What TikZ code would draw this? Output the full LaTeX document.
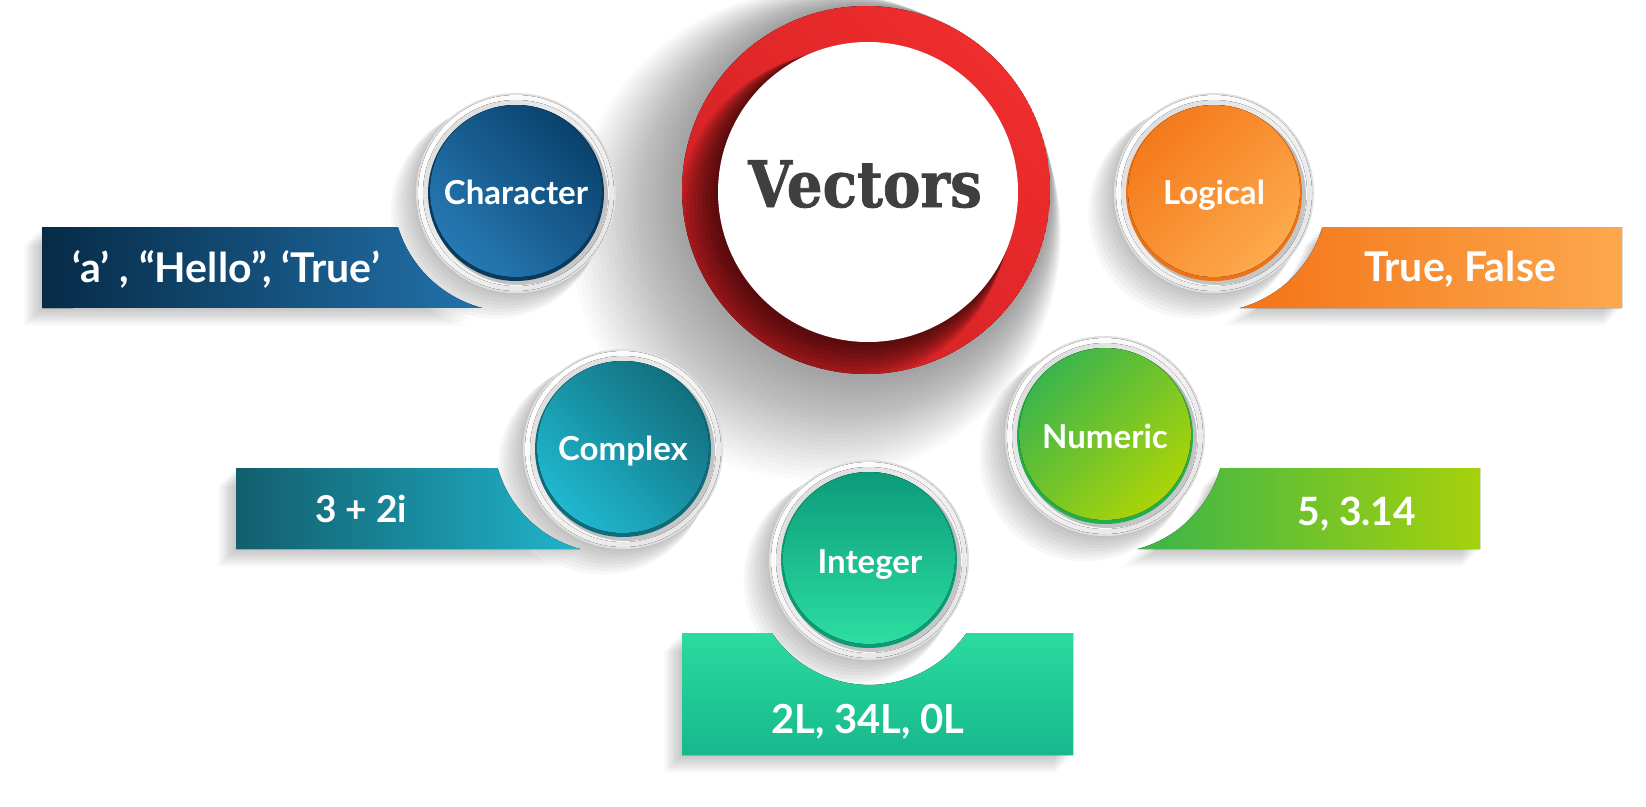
\documentclass[tikz,border=0pt]{standalone}
\usepackage{fontspec}
\usepackage{graphicx}
\setmainfont{Lato}
\newfontfamily\vecfont[BoldFeatures={FakeBold=1.3}]{DejaVu Serif}
\usetikzlibrary{calc}
\definecolor{charA}{HTML}{062B47}\definecolor{charB}{HTML}{2272AB}
\definecolor{charR}{HTML}{0A3A5C}\definecolor{charT}{HTML}{0A426D}\definecolor{charBt}{HTML}{2679B4}
\definecolor{logA}{HTML}{F37416}\definecolor{logB}{HTML}{FDA84E}
\definecolor{logR}{HTML}{EE7213}\definecolor{logT}{HTML}{F47A1B}\definecolor{logBt}{HTML}{FDA94D}
\definecolor{comA}{HTML}{125E6D}\definecolor{comB}{HTML}{20B4CB}
\definecolor{comR}{HTML}{0F6C7A}\definecolor{comT}{HTML}{12707F}\definecolor{comBt}{HTML}{20B7CE}
\definecolor{numA}{HTML}{3AB54A}\definecolor{numB}{HTML}{A6D10B}
\definecolor{numR}{HTML}{22AE4C}\definecolor{numT}{HTML}{3BB54B}\definecolor{numBt}{HTML}{ABD408}
\definecolor{intA}{HTML}{2BDB9F}\definecolor{intB}{HTML}{17B88C}
\definecolor{intR}{HTML}{0C9A77}\definecolor{intT}{HTML}{0C9B7A}\definecolor{intBt}{HTML}{2DDEA1}
\definecolor{redM}{HTML}{E8282B}\definecolor{redT}{HTML}{EF2D2D}\definecolor{redB}{HTML}{D02024}
\definecolor{vgray}{HTML}{3F3F3F}
% banner outlines (pixel coordinates, y downwards)
\newcommand\pathChar{(42,227) -- (398,227) arc[start angle=163, end angle=104.8, radius=120] -- (42,308) -- cycle}
\newcommand\pathLog{(1622,227) -- (1322.3,227) arc[start angle=16.2, end angle=75, radius=118] -- (1622,308) -- cycle}
\newcommand\pathCom{(236,468) -- (497.7,468) arc[start angle=163.8, end angle=105, radius=118] -- (236,549) -- cycle}
\newcommand\pathNum{(1480,468) -- (1220.3,468) arc[start angle=16.2, end angle=75, radius=118] -- (1480,549) -- cycle}
\newcommand\pathInt{(682,633) -- (772,633) arc[start angle=146.2, end angle=33.8, radius=117] -- (1073,633) -- (1073,755) -- (682,755) -- cycle}
% soft shadow of a circle
\newcommand\cshadow[2]{%
  \foreach \k in {1,...,8}
    \fill[black,opacity=0.03] ({#1-2.5*\k},{#2+2.5*\k}) circle[radius={99+0.8*\k}];}
% soft shadow of a banner
\newcommand\bshadow[1]{%
  \foreach \k in {1,...,8}
    \fill[black,opacity=0.028,shift={({-2.2*\k},{2.2*\k})}] #1;}
% button: x, y, rim colour, face colour A, face colour B, angle
\newcommand\bubble[6]{%
  \fill[black!12] (#1,#2) circle[radius=100];
  \fill[top color=white,bottom color=black!10,shading angle=45] (#1,#2) circle[radius=98];
  \fill[top color=black!13,bottom color=white,shading angle=45] (#1,#2) circle[radius=93];
  \fill[black,opacity=0.22] ({#1+3},{#2+3}) circle[radius=89];
  \fill[#3] (#1,#2) circle[radius=88];
  \fill[top color=#4,bottom color=#5,shading angle=#6] (#1,{#2-2}) circle[radius=86];}
\begin{document}
\begin{tikzpicture}[x=1pt,y=-1pt,
  lab/.style={text=white,font=\bfseries\fontsize{33}{38}\selectfont,anchor=base,inner sep=0pt},
  btxt/.style={text=white,anchor=base,inner sep=0pt},
  vtxt/.style={anchor=base,inner sep=0pt,font=\vecfont\bfseries\fontsize{64}{70}\selectfont}]
\useasboundingbox (0,0) rectangle (1646,806);
\fill[white] (0,0) rectangle (1646,806);
% large shadow of the central circle
\foreach \k in {1,...,25}
  \fill[black,opacity=0.016] ({866-2*\k},{190+1.8*\k}) circle[radius={185+2.4*\k}];
% shadows of the buttons
\cshadow{516}{193}
\cshadow{1214}{193}
\cshadow{623}{449}
\cshadow{1105}{436}
\cshadow{869}{560}
% shadows of the banners
\bshadow{\pathChar}
\bshadow{\pathLog}
\bshadow{\pathCom}
\bshadow{\pathNum}
\bshadow{\pathInt}
% banners
\fill[left color=charA,right color=charB] \pathChar;
\fill[left color=logA,right color=logB] \pathLog;
\fill[left color=comA,right color=comB] \pathCom;
\fill[left color=numA,right color=numB] \pathNum;
\fill[top color=intA,bottom color=intB] \pathInt;
% central circle
\begin{scope}
  \clip (866,190) circle[radius=184];
  \fill[top color=redT,bottom color=redB,shading angle=-45] (866,190) circle[radius=184];
  \foreach \k in {1,...,10}
    \fill[black,opacity=0.08] ({868-2.5*\k},{192+2.5*\k}) circle[radius={150+1.5*\k}];
\end{scope}
\fill[white] (868,192) circle[radius=150];
\node[vtxt,text=vgray] (vec) at (865,207) {\scalebox{0.88}[1]{Vectors}};
% buttons
\bubble{516}{193}{charR}{charT}{charBt}{-45}
\bubble{1214}{193}{logR}{logT}{logBt}{45}
\bubble{623}{449}{comR}{comT}{comBt}{-45}
\bubble{1105}{436}{numR}{numT}{numBt}{45}
\bubble{869}{560}{intR}{intT}{intBt}{0}
% button labels
\node[lab] (tchar) at (516,204) {Character};
\node[lab] (tlog) at (1214,204) {Logical};
\node[lab] (tcom) at (623,460) {Complex};
\node[lab] (tnum) at (1105,448) {Numeric};
\node[lab] (tint) at (870,573) {Integer};
% banner texts
\node[btxt,font=\bfseries\fontsize{41}{48}\selectfont] (vchar) at (226,282) {‘a’ , “Hello”, ‘True’};
\node[btxt,font=\bfseries\fontsize{41}{48}\selectfont] (vlog) at (1460,281) {True, False};
\node[btxt,font=\bfseries\fontsize{37}{46}\selectfont] (vcom) at (361,522) {3 + 2i};
\node[btxt,font=\bfseries\fontsize{39}{46}\selectfont] (vnum) at (1357,525) {5, 3.14};
\node[btxt,font=\bfseries\fontsize{40}{50}\selectfont] (vint) at (868,733) {2L, 34L, 0L};
\end{tikzpicture}
\end{document}
